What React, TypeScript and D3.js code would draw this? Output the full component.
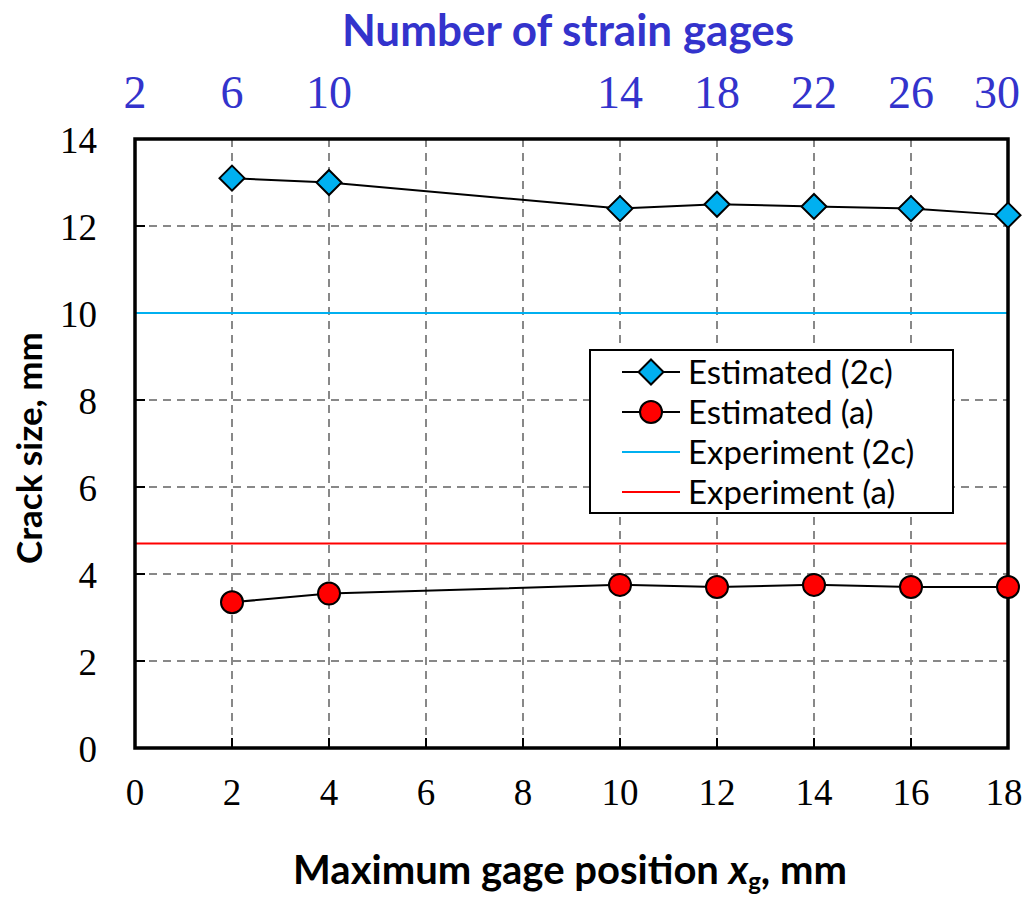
import React from "react";
import * as d3 from "d3";

const xValues = [2, 4, 10, 12, 14, 16, 18];
const estimated2c = [13.1, 13.0, 12.4, 12.5, 12.45, 12.4, 12.25];
const estimatedA = [3.35, 3.55, 3.75, 3.7, 3.75, 3.7, 3.7];
const experiment2c = 10.0;
const experimentA = 4.7;
const bottomTicks = [0, 2, 4, 6, 8, 10, 12, 14, 16, 18];
const yTicks = [0, 2, 4, 6, 8, 10, 12, 14];
const topTickPos = [0, 2, 4, 10, 12, 14, 16, 18];
const topTickLabels = ["2", "6", "10", "14", "18", "22", "26", "30"];
const legendLabels = ["Estimated (2c)", "Estimated (a)", "Experiment (2c)", "Experiment (a)"];

const W = 1026, H = 897;
const L = 135, R = 1008, T = 139, B = 748;
const BLUE = "#00b0f0";
const RED = "#ff0000";
const TOPBLUE = "#3333cc";
const SANS = "Lato, 'Open Sans', sans-serif";
const SERIF = "'Liberation Serif', 'Times New Roman', serif";

export default function App() {
  const x = d3.scaleLinear().domain([0, 18]).range([L, R]);
  const y = d3.scaleLinear().domain([0, 14]).range([B, T]);
  const line = d3.line<number>().x((_, i) => x(xValues[i])).y((d) => y(d));

  const diamond = (cx: number, cy: number, r: number) =>
    `M${cx},${cy - r}L${cx + r},${cy}L${cx},${cy + r}L${cx - r},${cy}Z`;

  const legX = 590, legY = 350, legW = 363, legH = 163;
  const rowY = (i: number) => 372 + i * 40;

  return (
    <svg width={W} height={H} style={{ display: "block", position: "absolute", left: 0, top: 0, background: "#fff" }}>
      {/* grid */}
      {bottomTicks.filter((t) => t > 0 && t < 18).map((t) => (
        <line key={"gx" + t} x1={x(t)} x2={x(t)} y1={T} y2={B} stroke="#888" strokeWidth={2} strokeDasharray="8,6" />
      ))}
      {yTicks.filter((t) => t > 0 && t < 14).map((t) => (
        <line key={"gy" + t} x1={L} x2={R} y1={y(t)} y2={y(t)} stroke="#888" strokeWidth={2} strokeDasharray="8,6" />
      ))}
      {/* inner ticks */}
      {bottomTicks.map((t) => (
        <line key={"tx" + t} x1={x(t)} x2={x(t)} y1={B} y2={B - 10} stroke="#000" strokeWidth={2} />
      ))}
      {yTicks.map((t) => (
        <line key={"ty" + t} x1={L} x2={L + 10} y1={y(t)} y2={y(t)} stroke="#000" strokeWidth={2} />
      ))}
      {/* experiment lines */}
      <line x1={L} x2={R} y1={y(experiment2c)} y2={y(experiment2c)} stroke={BLUE} strokeWidth={2} />
      <line x1={L} x2={R} y1={y(experimentA)} y2={y(experimentA)} stroke={RED} strokeWidth={2} />
      {/* frame */}
      <rect x={L} y={T} width={R - L} height={B - T} fill="none" stroke="#000" strokeWidth={3.5} />
      {/* series lines */}
      <path d={line(estimated2c) || ""} fill="none" stroke="#000" strokeWidth={2} />
      <path d={line(estimatedA) || ""} fill="none" stroke="#000" strokeWidth={2} />
      {estimated2c.map((v, i) => (
        <path key={"d" + i} d={diamond(x(xValues[i]), y(v), 12.5)} fill={BLUE} stroke="#000" strokeWidth={2} />
      ))}
      {estimatedA.map((v, i) => (
        <circle key={"c" + i} cx={x(xValues[i])} cy={y(v)} r={11} fill={RED} stroke="#000" strokeWidth={2} />
      ))}
      {/* bottom tick labels */}
      {bottomTicks.map((t, i) => (
        <text key={"bl" + t} x={i === bottomTicks.length - 1 ? 1004 : x(t)} y={805} textAnchor="middle" fontFamily={SERIF} fontSize={37} fill="#000">{t}</text>
      ))}
      {/* left tick labels */}
      {yTicks.map((t) => (
        <text key={"ll" + t} x={97} y={y(t) + 14} textAnchor="end" fontFamily={SERIF} fontSize={37} fill="#000">{t}</text>
      ))}
      {/* top tick labels */}
      {topTickPos.map((p, i) => (
        <text key={"tl" + i} x={i === topTickPos.length - 1 ? 997 : x(p)} y={108} textAnchor="middle" fontFamily={SERIF} fontSize={46} fill={TOPBLUE}>{topTickLabels[i]}</text>
      ))}
      {/* titles */}
      <text x={568} y={46} textAnchor="middle" fontFamily={SANS} fontWeight="bold" fontSize={44} fill={TOPBLUE}>Number of strain gages</text>
      <text transform={`translate(42,${448}) rotate(-90)`} textAnchor="middle" fontFamily={SANS} fontWeight="bold" fontSize={35} fill="#000">Crack size, mm</text>
      <text x={570} y={884} textAnchor="middle" fontFamily={SANS} fontWeight="bold" fontSize={40} fill="#000">
        Maximum gage position <tspan fontStyle="italic">x</tspan><tspan fontSize={24} dy={6}>g</tspan><tspan dy={-6}>, mm</tspan>
      </text>
      {/* legend */}
      <rect x={legX} y={legY} width={legW} height={legH} fill="#fff" stroke="#000" strokeWidth={2} />
      {legendLabels.map((lab, i) => {
        const cy = rowY(i);
        return (
          <g key={"lg" + i}>
            <line x1={622} x2={680} y1={cy} y2={cy} stroke={i === 0 || i === 1 ? "#000" : i === 2 ? BLUE : RED} strokeWidth={2} />
            {i === 0 && <path d={diamond(651, cy, 12.5)} fill={BLUE} stroke="#000" strokeWidth={2} />}
            {i === 1 && <circle cx={651} cy={cy} r={11} fill={RED} stroke="#000" strokeWidth={2} />}
            <text x={688} y={cy + 12} fontFamily={SANS} fontSize={33} fill="#000">{lab}</text>
          </g>
        );
      })}
    </svg>
  );
}
